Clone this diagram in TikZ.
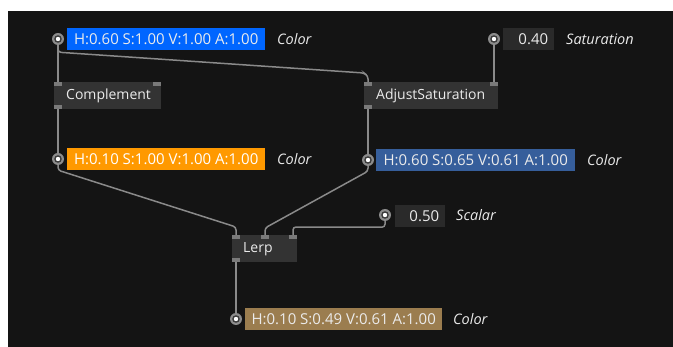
\documentclass[tikz,border=0pt]{standalone}
\usepackage{fontspec}
\setmainfont{Open Sans}
\definecolor{bg}{HTML}{141414}
\definecolor{opfill}{HTML}{333333}
\definecolor{valfill}{HTML}{2A2A2A}
\definecolor{wire}{HTML}{8A8A8A}
\definecolor{portc}{HTML}{7A7A7A}
\definecolor{pinring}{HTML}{8C8C8C}
\definecolor{pindark}{HTML}{3A3A3A}
\definecolor{txt}{HTML}{EBEBEB}
\definecolor{hsvA}{HTML}{0066FF}
\definecolor{hsvB}{HTML}{FF9900}
\definecolor{hsvC}{HTML}{365E9B}
\definecolor{hsvD}{HTML}{9B7D4F}
\tikzset{
  opbox/.style={anchor=north west, fill=opfill, inner sep=0pt, minimum height=27pt},
  optext/.style={anchor=west, inner sep=0pt, text=txt, font=\fontsize{14}{16}\selectfont},
  portbox/.style={rectangle, fill=portc, inner sep=0pt, minimum width=8pt, minimum height=4pt},
  pin/.style={circle, fill=pinring, inner sep=0pt, minimum size=12pt,
    path picture={\fill[pindark] (path picture bounding box.center) circle (3.8pt);
                  \fill[white] (path picture bounding box.center) circle (2.2pt);}},
  valbox/.style={anchor=north west, inner sep=0pt, minimum height=22pt, text=txt,
    font=\fontsize{15}{17}\selectfont},
  numbox/.style={anchor=north west, fill=valfill, inner xsep=6pt, inner ysep=0pt,
    minimum height=22pt, align=right, text=txt, font=\fontsize{15}{17}\selectfont},
  lbl/.style={anchor=west, inner sep=0pt, text=txt, font=\fontsize{14.5}{16}\selectfont\itshape},
  wirepath/.style={draw=wire, line width=1.5pt, rounded corners=3pt},
}
\begin{document}
\begin{tikzpicture}[x=1pt, y=-1pt]
  \useasboundingbox (0,0) rectangle (673,347);
  \fill[bg] (8,11) rectangle (673,347);

  % operator boxes
  \node[opbox, minimum width=107pt] (comp) at (54,82) {};
  \node[optext] (comp-t) at ([xshift=12pt]comp.west) {Complement};
  \node[portbox] (comp-in) at (58,84) {};
  \node[portbox] (comp-in2) at (157,84) {};
  \node[portbox] (comp-out) at (58,107) {};

  \node[opbox, minimum width=134pt] (adj) at (364,82) {};
  \node[optext] (adj-t) at ([xshift=12pt]adj.west) {AdjustSaturation};
  \node[portbox] (adj-in) at (368,84) {};
  \node[portbox] (adj-in2) at (494,84) {};
  \node[portbox] (adj-out) at (368,107) {};

  \node[opbox, minimum width=65pt] (lerp) at (232,235) {};
  \node[optext] (lerp-t) at ([xshift=11pt]lerp.west) {Lerp};
  \node[portbox] (lerp-in) at (236,237) {};
  \node[portbox] (lerp-in2) at (265,237) {};
  \node[portbox] (lerp-in3) at (293,237) {};
  \node[portbox] (lerp-out) at (236,260) {};

  % value pins
  \node[pin] (p1) at (58,39) {};
  \node[valbox, fill=hsvA, minimum width=198pt] (v1) at (67,28) {H:0.60 S:1.00 V:1.00 A:1.00};
  \node[lbl] (v1-l) at (277,39) {Color};

  \node[pin] (psat) at (494,39) {};
  \node[numbox, text width=39pt] (vsat) at (503,28) {0.40};
  \node[lbl] (vsat-l) at (566,39) {Saturation};

  \node[pin] (p2) at (58,159) {};
  \node[valbox, fill=hsvB, minimum width=198pt, text=white] (v2) at (67,148) {H:0.10 S:1.00 V:1.00 A:1.00};
  \node[lbl] (v2-l) at (277,159) {Color};

  \node[pin] (p3) at (368,160) {};
  \node[valbox, fill=hsvC, minimum width=199pt] (v3) at (376,149) {H:0.60 S:0.65 V:0.61 A:1.00};
  \node[lbl] (v3-l) at (587,160) {Color};

  \node[pin] (p4) at (385,215) {};
  \node[numbox, text width=38pt] (v4) at (395,205) {0.50};
  \node[lbl] (v4-l) at (456,215) {Scalar};

  \node[pin] (p5) at (236,319) {};
  \node[valbox, fill=hsvD, minimum width=197pt] (v5) at (245,308) {H:0.10 S:0.49 V:0.61 A:1.00};
  \node[lbl] (v5-l) at (453,319) {Color};

  % connections
  \draw[wirepath] (p1.south) -- (comp-in.north);
  \draw[wirepath] (p1.south) -- ++(0,7) -- (364,73) -- (adj-in.north |- 0,76) -- (adj-in.north);
  \draw[wirepath] (psat.south) -- (adj-in2.north);
  \draw[wirepath] (comp-out.south) -- (p2.north);
  \draw[wirepath] (adj-out.south) -- (p3.north);
  \draw[wirepath] (p2.south) -- ++(0,5) -- (lerp-in.north |- 0,227) -- (lerp-in.north);
  \draw[wirepath] (p3.south) -- ++(0,5) -- (lerp-in2.north |- 0,228) -- (lerp-in2.north);
  \draw[wirepath] (p4.south) -- ++(0,6) -- (lerp-in3.north |- 0,227) -- (lerp-in3.north);
  \draw[wirepath] (lerp-out.south) -- (p5.north);
\end{tikzpicture}
\end{document}
